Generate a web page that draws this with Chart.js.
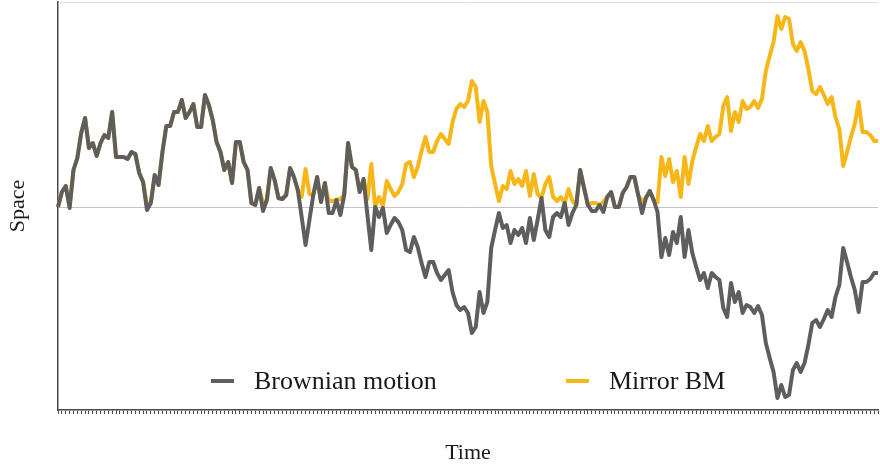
<!DOCTYPE html>
<html>
<head>
<meta charset="utf-8">
<script src="https://cdn.jsdelivr.net/npm/chart.js@4/dist/chart.umd.min.js"></script>
<style>
    html, body { margin: 0; padding: 0; background: #ffffff; }
    #wrap { width: 880px; height: 466px; }
</style>
</head>
<body>
<div id="wrap"><canvas id="chart" width="880" height="466"></canvas></div>
<script>
// Brownian path, one value per step
const brownian = [
    0, 1.5, 2.1, -0.1, 3.7, 4.9, 7.4, 8.9, 5.9, 6.4,
    5.1, 6.4, 7.2, 6.9, 9.5, 5.0, 5.0, 5.0, 4.8, 5.5,
    5.3, 3.4, 2.5, -0.3, 0.4, 3.2, 2.2, 5.5, 8.1, 8.1,
    9.5, 9.5, 10.7, 8.9, 9.5, 10.3, 8.0, 8.0, 11.2, 10.2,
    8.7, 6.5, 5.5, 3.7, 4.5, 2.4, 6.5, 6.5, 4.5, 3.7,
    0.4, 0.2, 1.9, -0.4, 0.7, 3.9, 2.7, 0.9, 0.8, 1.2,
    3.9, 3.0, 1.7, -1.0, -3.8, -1.3, 1.2, 3.0, 0.5, 2.4,
    -0.6, -0.6, 0.7, -0.8, 1.2, 6.4, 4.0, 3.7, 1.5, 2.8,
    -0.8, -4.3, 0.0, -1.0, -0.1, -2.6, -1.8, -1.1, -1.5, -2.3,
    -4.3, -4.5, -3.0, -4.0, -5.6, -7.0, -5.5, -5.5, -6.6, -7.3,
    -6.8, -6.3, -8.5, -9.8, -10.3, -10.0, -10.6, -12.6, -12.0, -8.5,
    -10.6, -9.5, -4.1, -2.3, -0.6, -2.1, -1.8, -3.6, -2.3, -2.8,
    -2.1, -3.6, -1.1, -3.3, -1.3, 0.9, -2.3, -3.0, -1.0, -0.6,
    -1.0, 0.4, -1.8, -0.6, 0.2, 3.7, 1.9, 0.2, -0.4, -0.4,
    0.2, -0.5, 1.0, 1.5, 0.0, 0.0, 1.4, 2.0, 3.0, 3.0,
    1.2, -0.6, 0.9, 1.6, 0.7, -0.5, -5.0, -3.1, -4.8, -2.5,
    -3.6, -1.0, -5.0, -2.3, -4.6, -6.0, -7.3, -6.6, -8.1, -6.6,
    -7.0, -7.3, -10.1, -11.0, -7.6, -9.5, -8.5, -10.6, -9.8, -10.0,
    -10.6, -9.9, -10.8, -13.6, -15.1, -16.5, -19.1, -17.8, -19.0, -18.8,
    -16.3, -15.6, -16.5, -15.6, -13.8, -11.6, -11.3, -12.0, -11.2, -10.3,
    -11.0, -9.0, -7.8, -4.1, -5.5, -7.0, -8.3, -10.5, -7.5, -7.5,
    -7.2, -6.6, -6.6,
];

const mirror = [
    0, 1.5, 2.1, 0.1, 3.7, 4.9, 7.4, 8.9, 5.9, 6.4,
    5.1, 6.4, 7.2, 6.9, 9.5, 5.0, 5.0, 5.0, 4.8, 5.5,
    5.3, 3.4, 2.5, 0.3, 0.4, 3.2, 2.2, 5.5, 8.1, 8.1,
    9.5, 9.5, 10.7, 8.9, 9.5, 10.3, 8.0, 8.0, 11.2, 10.2,
    8.7, 6.5, 5.5, 3.7, 4.5, 2.4, 6.5, 6.5, 4.5, 3.7,
    0.4, 0.2, 1.9, 0.4, 0.7, 3.9, 2.7, 0.9, 0.8, 1.2,
    3.9, 3.0, 1.7, 1.0, 3.8, 1.3, 1.2, 3.0, 0.5, 2.4,
    0.6, 0.6, 0.7, 0.8, 1.2, 6.4, 4.0, 3.7, 1.5, 2.8,
    0.8, 4.3, 0.0, 1.0, 0.1, 2.6, 1.8, 1.1, 1.5, 2.3,
    4.3, 4.5, 3.0, 4.0, 5.6, 7.0, 5.5, 5.5, 6.6, 7.3,
    6.8, 6.3, 8.5, 9.8, 10.3, 10.0, 10.6, 12.6, 12.0, 8.5,
    10.6, 9.5, 4.1, 2.3, 0.6, 2.1, 1.8, 3.6, 2.3, 2.8,
    2.1, 3.6, 1.1, 3.3, 1.3, 0.9, 2.3, 3.0, 1.0, 0.6,
    1.0, 0.4, 1.8, 0.6, 0.2, 3.7, 1.9, 0.2, 0.4, 0.4,
    0.2, 0.5, 1.0, 1.5, 0.0, 0.0, 1.4, 2.0, 3.0, 3.0,
    1.2, 0.6, 0.9, 1.6, 0.7, 0.5, 5.0, 3.1, 4.8, 2.5,
    3.6, 1.0, 5.0, 2.3, 4.6, 6.0, 7.3, 6.6, 8.1, 6.6,
    7.0, 7.3, 10.1, 11.0, 7.6, 9.5, 8.5, 10.6, 9.8, 10.0,
    10.6, 9.9, 10.8, 13.6, 15.1, 16.5, 19.1, 17.8, 19.0, 18.8,
    16.3, 15.6, 16.5, 15.6, 13.8, 11.6, 11.3, 12.0, 11.2, 10.3,
    11.0, 9.0, 7.8, 4.1, 5.5, 7.0, 8.3, 10.5, 7.5, 7.5,
    7.2, 6.6, 6.6,
];

// time steps (no labels are shown, only the tick marks)
const steps = brownian.map((_, i) => i);

const Y_MIN = -20.3;
const Y_MAX = 20.5;

const SERIF = "'Liberation Serif', 'Times New Roman', serif";
const GRAY = "#5e5e5e";
const GOLD = "#f7b718";
const AXIS = "#4a4a4a";

const legendInside = {
    id: "legendInside",
    afterDraw(chart) {
        const { ctx, chartArea } = chart;
        const y = chartArea.bottom - 29;
        const items = [
            { x: 211, label: chart.data.datasets[0].label, color: chart.data.datasets[0].borderColor },
            { x: 566, label: chart.data.datasets[1].label, color: chart.data.datasets[1].borderColor },
        ];
        ctx.save();
        ctx.font = "26px " + SERIF;
        ctx.textBaseline = "middle";
        ctx.fillStyle = "#1a1a1a";
        items.forEach((item) => {
            ctx.strokeStyle = item.color;
            ctx.lineWidth = 4;
            ctx.beginPath();
            ctx.moveTo(item.x, y);
            ctx.lineTo(item.x + 23, y);
            ctx.stroke();
            ctx.fillText(item.label, item.x + 43, y + 1);
        });
        ctx.restore();
    },
};

new Chart(document.getElementById("chart"), {
    type: "line",
    data: {
        labels: steps,
        datasets: [
            {
                label: "Brownian motion",
                data: brownian,
                borderColor: GRAY,
                borderWidth: 4,
                pointRadius: 0,
                tension: 0,
                borderJoinStyle: "round",
            },
            {
                label: "Mirror BM",
                data: mirror,
                borderColor: GOLD,
                borderWidth: 4,
                pointRadius: 0,
                tension: 0,
                borderJoinStyle: "round",
            },
        ],
    },
    options: {
        responsive: false,
        animation: false,
        layout: { padding: { top: 2, right: 2, left: 0, bottom: 0 } },
        plugins: {
            legend: { display: false },
            tooltip: { enabled: false },
        },
        scales: {
            x: {
                type: "category",
                ticks: { display: false },
                grid: {
                    drawOnChartArea: false,
                    drawTicks: true,
                    tickLength: 4,
                    color: AXIS,
                    lineWidth: 1,
                },
                border: { display: true, color: AXIS, width: 1.5 },
                title: {
                    display: true,
                    text: "Time",
                    color: "#1a1a1a",
                    font: { family: SERIF, size: 22 },
                    padding: { top: 0, bottom: 0 },
                },
                afterFit: (scale) => { scale.height = 56; },
            },
            y: {
                min: Y_MIN,
                max: Y_MAX,
                ticks: { display: false },
                afterBuildTicks: (scale) => {
                    scale.ticks = [{ value: Y_MIN }, { value: 0 }, { value: Y_MAX }];
                },
                grid: {
                    drawTicks: false,
                    lineWidth: 1,
                    color: (ctx) => {
                        if (ctx.tick && ctx.tick.value === 0) return "#c4c4c4";
                        if (ctx.tick && ctx.tick.value === Y_MAX) return "#dedede";
                        return "rgba(0,0,0,0)";
                    },
                },
                border: { display: true, color: AXIS, width: 1.5 },
                title: {
                    display: true,
                    text: "Space",
                    color: "#1a1a1a",
                    font: { family: SERIF, size: 22 },
                    padding: { top: 5, bottom: 0 },
                },
                afterFit: (scale) => { scale.width = 58; },
            },
        },
    },
    plugins: [legendInside],
});
</script>
</body>
</html>
